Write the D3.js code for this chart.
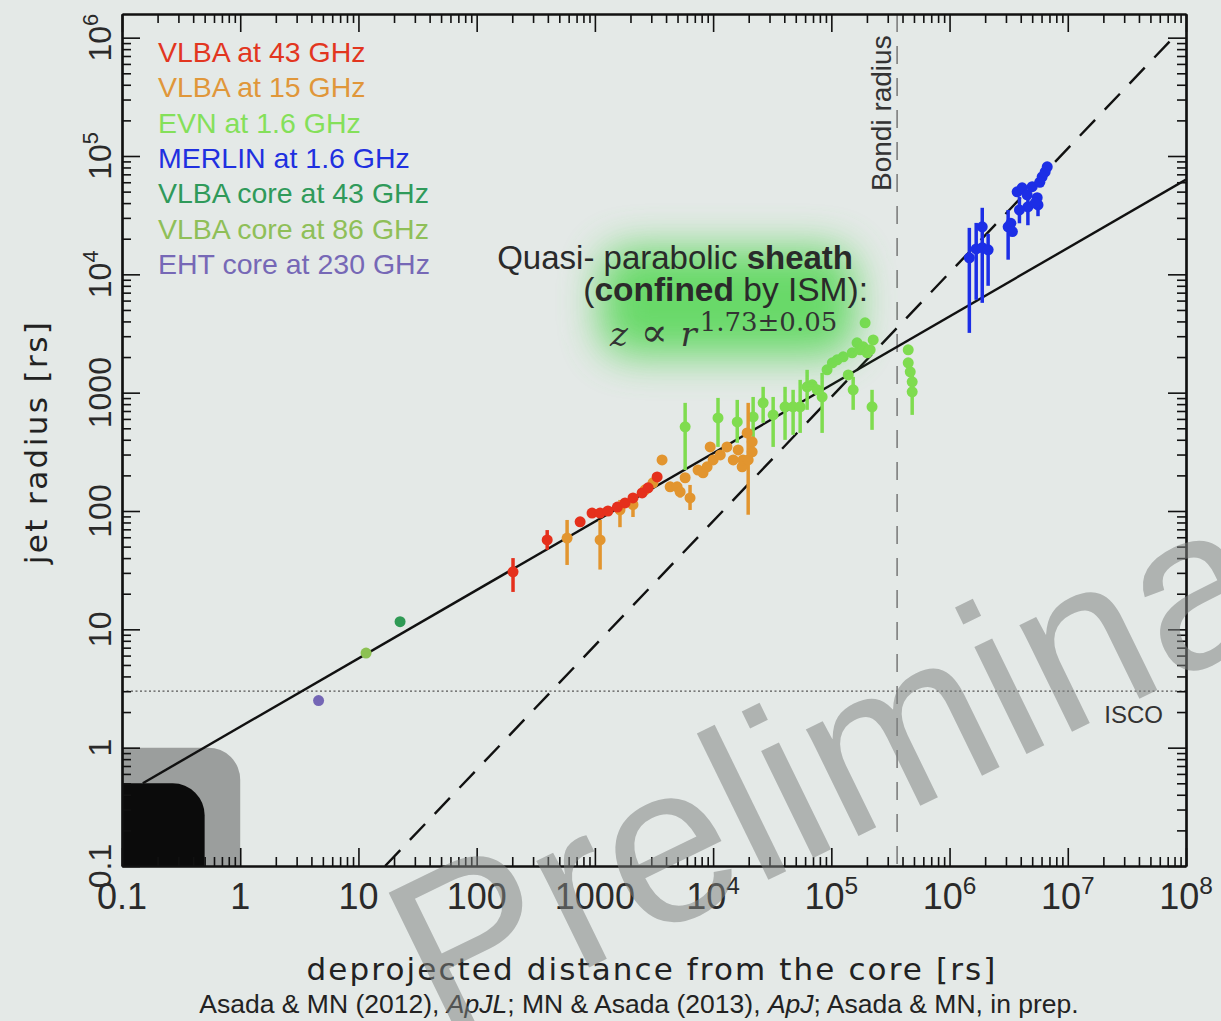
<!DOCTYPE html>
<html>
<head>
<meta charset="utf-8">
<script src="https://cdn.jsdelivr.net/npm/d3@7"></script>
<style>
  body { margin: 0; background: #e4e9e7; }
  svg { display: block; }
</style>
</head>
<body>
<svg width="1221" height="1021"></svg>
<script>
// ---- data: [z (rs), r (rs), rLow, rHigh] ; error bar only where visible
const vlba43 = [
  [203, 30.6, 20.7, 40], [395, 57, 47, 69], [750, 81], [946, 96], [1106, 96],
  [1290, 100], [1550, 108], [1800, 117], [2100, 129], [2510, 142], [2820, 157], [3360, 194]
];
const vlba15 = [
  [582, 59, 35, 84], [1107, 57, 32, 84], [1630, 102, 73, 124], [2100, 113, 89, 131],
  [2660, 151], [3100, 173], [3700, 270], [4330, 160], [4960, 160], [5260, 145, 130, 160],
  [5800, 191], [6380, 129, 102, 166], [7460, 222], [8220, 210], [8900, 236], [9450, 348],
  [10000, 270], [11500, 298], [13100, 348], [14800, 270], [16300, 328], [17600, 236],
  [17900, 270], [19400, 457], [19800, 270, 93, 820], [21400, 384], [21400, 316]
];
const evn = [
  [5800, 514, 222, 820], [11000, 612, 348, 903], [16000, 566, 377, 869], [21800, 624, 399, 920],
  [26500, 820, 556, 1120], [32200, 649, 348, 920], [40600, 759, 399, 1120], [47500, 759, 440, 1057],
  [54500, 759, 457, 1283], [62400, 1120, 716, 1560], [68800, 1164], [75900, 1057],
  [83600, 921, 457, 1470], [92000, 1560], [102000, 1786], [112000, 1893], [126000, 2009],
  [139000, 1413], [150000, 2170], [153000, 1057, 716, 1360], [165000, 2635], [175000, 2300],
  [186000, 2440], [201000, 2170], [213000, 2300], [226000, 2790], [193000, 3890],
  [221000, 759, 485, 1057], [447000, 2300], [465000, 1500], [483000, 1234],
  [483000, 1016, 649, 1413], [447000, 1786]
];
const merlin = [
  [1.47e6, 1.38e4, 3200, 2.47e4], [1.68e6, 1.64e4, 6090, 2.72e4], [1.89e6, 1.68e4, 5740, 3.65e4],
  [1.89e6, 2.52e4], [2.12e6, 1.61e4, 8000, 2.2e4], [3.13e6, 2.52e4, 1.33e4, 3.5e4],
  [3.3e6, 2.7e4], [3.4e6, 2.3e4], [3.73e6, 4.98e4], [4.11e6, 5.38e4], [4.53e6, 4.7e4],
  [4.6e6, 3.72e4, 2.6e4, 5.2e4], [5.0e6, 5.5e4], [5.51e6, 4.44e4], [5.6e6, 3.86e4, 3.1e4, 4.5e4],
  [5.3e6, 4.0e4], [6.07e6, 6.67e4], [6.44e6, 7.35e4], [6.7e6, 8.1e4], [5.8e6, 6.0e4],
  [3.9e6, 3.5e4, 2.7e4, 4.5e4]
];
const core43 = [[22.5, 11.6]];
const core86 = [[11.6, 6.3]];
const eht = [[4.6, 2.5]];

const legendLabels = ["VLBA at 43 GHz", "VLBA at 15 GHz", "EVN at 1.6 GHz", "MERLIN at 1.6 GHz",
  "VLBA core at 43 GHz", "VLBA core at 86 GHz", "EHT core at 230 GHz"];
const legendColors = ["#e2361f", "#e0973a", "#84e05a", "#1f30e0", "#2f9a5a", "#8fbf58", "#7668b6"];

const sheathIndex = 1 / 1.73, sheathNorm = 1.5;        // r = 1.5 z^(1/1.73)
const conicalIndex = 1.05, conicalZ0 = 16.8;           // r = 0.1 (z/16.8)^1.05
const bondiRadius = 3.6e5;
const iscoRadius = 3;
const horizonBoxes = [{z: 1, r: 1, fill: "#9b9e9d"}, {z: 0.5, r: 0.5, fill: "#0b0b0b"}];

const xMajor = d3.range(-1, 9).map(e => Math.pow(10, e));
const yMajor = d3.range(-1, 7).map(e => Math.pow(10, e));
const xMinor = d3.range(-1, 8).flatMap(e => d3.range(2, 10).map(m => m * Math.pow(10, e)));
const yMinor = d3.range(-1, 7).flatMap(e => d3.range(2, 10).map(m => m * Math.pow(10, e)))
  .filter(v => v < Math.pow(10, 6.2));

// ---- layout
const svg = d3.select("svg");
const plot = {left: 122, right: 1186, top: 14, bottom: 866};
const x = d3.scaleLog().domain([0.1, 1e8]).range([plot.left, plot.right]);
const y = d3.scaleLog().domain([0.1, Math.pow(10, 6.2)]).range([plot.bottom, plot.top]);

const defs = svg.append("defs");
defs.append("clipPath").attr("id", "clip").append("rect")
  .attr("x", plot.left).attr("y", plot.top)
  .attr("width", plot.right - plot.left).attr("height", plot.bottom - plot.top);
defs.append("filter").attr("id", "glow").attr("x", "-50%").attr("y", "-50%")
  .attr("width", "200%").attr("height", "200%")
  .append("feGaussianBlur").attr("stdDeviation", 20);

const g = svg.append("g").attr("clip-path", "url(#clip)");

// black hole boxes
horizonBoxes.forEach(b => {
  const xr = x(b.z), yt = y(b.r), rad = 32;
  g.append("path")
    .attr("d", `M${plot.left},${plot.bottom} L${plot.left},${yt} L${xr - rad},${yt} A${rad},${rad} 0 0 1 ${xr},${yt + rad} L${xr},${plot.bottom} Z`)
    .attr("fill", b.fill);
});

// reference lines
g.append("line")
  .attr("x1", plot.left).attr("x2", plot.right).attr("y1", y(iscoRadius)).attr("y2", y(iscoRadius))
  .attr("stroke", "#555").attr("stroke-width", 1.2).attr("stroke-dasharray", "2,2.5");
g.append("line")
  .attr("x1", x(bondiRadius)).attr("x2", x(bondiRadius)).attr("y1", plot.top).attr("y2", plot.bottom)
  .attr("stroke", "#6e6e6e").attr("stroke-width", 1.4).attr("stroke-dasharray", "18,14");

// glow behind annotation
svg.append("rect").attr("x", 600).attr("y", 248).attr("width", 255).attr("height", 108)
  .attr("rx", 30).attr("fill", "#5cd85c").attr("opacity", 0.9).attr("filter", "url(#glow)");

const line = d3.line().x(d => x(d[0])).y(d => y(d[1]));
const sheathZ = [0.15, 1e8];
g.append("path").datum(sheathZ.map(z => [z, sheathNorm * Math.pow(z, sheathIndex)]))
  .attr("d", line).attr("fill", "none").attr("stroke", "#111").attr("stroke-width", 2.4);
const conicalZ = [conicalZ0, 7.8e7];
g.append("path").datum(conicalZ.map(z => [z, 0.1 * Math.pow(z / conicalZ0, conicalIndex)]))
  .attr("d", line).attr("fill", "none").attr("stroke", "#111").attr("stroke-width", 2.4)
  .attr("stroke-dasharray", "22,14");

// data
function drawSeries(data, color) {
  const s = g.append("g");
  s.selectAll("line").data(data.filter(d => d.length > 2)).enter().append("line")
    .attr("x1", d => x(d[0])).attr("x2", d => x(d[0]))
    .attr("y1", d => y(d[2])).attr("y2", d => y(d[3]))
    .attr("stroke", color).attr("stroke-width", 3.5);
  s.selectAll("circle").data(data).enter().append("circle")
    .attr("cx", d => x(d[0])).attr("cy", d => y(d[1])).attr("r", 5.5)
    .attr("fill", color);
}
drawSeries(evn, "#7fdc4f");
drawSeries(vlba15, "#e2952f");
drawSeries(vlba43, "#e5301c");
drawSeries(merlin, "#1c2ee6");
drawSeries(core43, "#2f9a55");
drawSeries(core86, "#8cc152");
drawSeries(eht, "#7466b5");

// ---- axes (ticks inward on all four sides)
function frameAxis(axisFn, scale, tx, ty, major, minor) {
  const a = svg.append("g").attr("transform", `translate(${tx},${ty})`);
  a.append("g").call(axisFn(scale).tickValues(minor).tickSize(-9).tickSizeOuter(0).tickFormat(""));
  a.append("g").call(axisFn(scale).tickValues(major).tickSize(-18).tickSizeOuter(0).tickFormat(""));
  a.selectAll("path.domain").attr("stroke", "#111").attr("stroke-width", 2.2);
  a.selectAll(".tick line").attr("stroke", "#111").attr("stroke-width", 1.6);
}
frameAxis(d3.axisBottom, x, 0, plot.bottom, xMajor, xMinor);
frameAxis(d3.axisTop, x, 0, plot.top, xMajor, xMinor);
frameAxis(d3.axisLeft, y, plot.left, 0, yMajor, yMinor);
frameAxis(d3.axisRight, y, plot.right, 0, yMajor, yMinor);

function powLabel(t, v, size) {
  const e = Math.round(Math.log10(v));
  if (e < 0) t.text("0.1");
  else if (e < 4) t.text(String(Math.pow(10, e)));
  else {
    t.append("tspan").text("10");
    t.append("tspan").attr("dy", -0.42 * size).attr("font-size", size * 0.68).text(e);
  }
}
const tickFont = "'Liberation Sans', Arial, sans-serif";
svg.append("g").selectAll("text").data(xMajor).enter().append("text")
  .attr("x", d => x(d)).attr("y", 909).attr("text-anchor", "middle")
  .attr("font-family", tickFont).attr("font-size", 36).attr("fill", "#2a2a2a")
  .each(function (d) { powLabel(d3.select(this), d, 36); });
svg.append("g").selectAll("text").data(yMajor).enter().append("text")
  .attr("transform", d => `translate(111,${y(d)}) rotate(-90)`).attr("text-anchor", "middle")
  .attr("font-family", tickFont).attr("font-size", 32).attr("fill", "#2a2a2a")
  .each(function (d) { powLabel(d3.select(this), d, 32); });

// axis titles
svg.append("text").attr("x", 652).attr("y", 980).attr("text-anchor", "middle")
  .attr("font-family", "'DejaVu Sans', sans-serif").attr("font-size", 31).attr("letter-spacing", 2.1)
  .attr("fill", "#222").text("deprojected distance from the core [rs]");
svg.append("text").attr("transform", "translate(47,442) rotate(-90)").attr("text-anchor", "middle")
  .attr("font-family", "'DejaVu Sans', sans-serif").attr("font-size", 31).attr("letter-spacing", 2.4)
  .attr("fill", "#222").text("jet radius [rs]");
const cap = svg.append("text").attr("x", 639).attr("y", 1013).attr("text-anchor", "middle")
  .attr("font-family", tickFont).attr("font-size", 26.5).attr("fill", "#222");
[["Asada & MN (2012), ", false], ["ApJL", true], ["; MN & Asada (2013), ", false], ["ApJ", true],
 ["; Asada & MN, in prep.", false]].forEach(([s, it]) =>
  cap.append("tspan").attr("font-style", it ? "italic" : "normal").text(s));

// legend
svg.append("g").selectAll("text").data(legendLabels).enter().append("text")
  .attr("x", 158).attr("y", (d, i) => 62 + i * 35.3)
  .attr("font-family", "'Liberation Sans', Arial, sans-serif").attr("font-size", 28.5)
  .attr("fill", (d, i) => legendColors[i]).text(d => d);

// annotations
svg.append("text").attr("transform", `translate(${x(bondiRadius) - 6},191) rotate(-90)`)
  .attr("font-family", "'Liberation Sans', Arial, sans-serif").attr("font-size", 28)
  .attr("fill", "#333").text("Bondi radius");
svg.append("text").attr("x", 1163).attr("y", 723).attr("text-anchor", "end")
  .attr("font-family", "'Liberation Sans', Arial, sans-serif").attr("font-size", 24)
  .attr("fill", "#333").text("ISCO");

const a1 = svg.append("text").attr("x", 853).attr("y", 269).attr("text-anchor", "end")
  .attr("font-family", "'Liberation Sans', Arial, sans-serif").attr("font-size", 33).attr("fill", "#2a2a2a");
a1.append("tspan").text("Quasi- parabolic ");
a1.append("tspan").attr("font-weight", "bold").text("sheath");
const a2 = svg.append("text").attr("x", 868).attr("y", 301).attr("text-anchor", "end")
  .attr("font-family", "'Liberation Sans', Arial, sans-serif").attr("font-size", 33.5).attr("fill", "#2a2a2a");
a2.append("tspan").text("(");
a2.append("tspan").attr("font-weight", "bold").text("confined");
a2.append("tspan").text(" by ISM):");
const a3 = svg.append("text").attr("x", 610).attr("y", 346)
  .attr("font-family", "'DejaVu Serif', 'Liberation Serif', serif").attr("font-size", 34).attr("fill", "#333");
a3.append("tspan").attr("font-style", "italic").text("z");
a3.append("tspan").attr("font-size", 40).text(" \u221D ");
a3.append("tspan").attr("font-style", "italic").text("r");
a3.append("tspan").attr("dy", -15).attr("dx", 3).attr("font-size", 26).text("1.73\u00B10.05");

// watermark
svg.append("text").attr("transform", "translate(440,1040) rotate(-26)")
  .attr("font-family", "'Liberation Sans', Arial, sans-serif").attr("font-size", 225)
  .attr("fill", "#7f8281").attr("opacity", 0.52).text("Preliminary");
</script>
</body>
</html>
